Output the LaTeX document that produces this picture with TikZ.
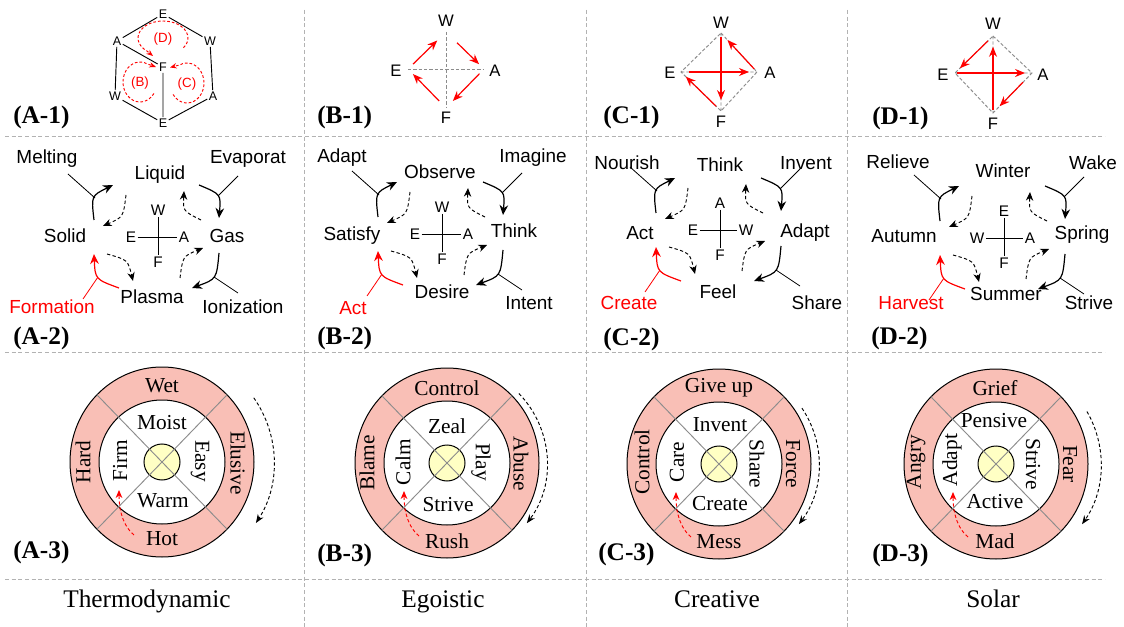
\documentclass[tikz,border=0pt]{standalone}
\usepackage{fontspec}
\setmainfont{Liberation Serif}
\newfontfamily\arial{Liberation Sans}
\usetikzlibrary{arrows.meta,calc}
\definecolor{ringfill}{RGB}{249,191,182}
\definecolor{corefill}{RGB}{255,255,196}
\definecolor{gridgray}{RGB}{178,178,178}
\definecolor{dgray}{RGB}{140,140,140}
\definecolor{myred}{RGB}{255,0,0}
\tikzset{
  gridline/.style={gridgray, dash pattern=on 3pt off 2pt, line width=0.6pt},
  panlbl/.style={font=\fontsize{19}{19}\selectfont\bfseries, anchor=west, inner sep=0pt},
  colname/.style={font=\fontsize{19}{19}\selectfont, inner sep=0pt, anchor=base},
  ringtxt/.style={font=\fontsize{16}{16}\selectfont, inner sep=0pt},
  sanslbl/.style={font=\arial\fontsize{14.2}{14.2}\selectfont, inner sep=1pt},
  redlbl/.style={sanslbl, text=myred},
  crosslbl/.style={font=\arial\fontsize{11.5}{11.5}\selectfont, inner sep=1pt},
  diamlbl/.style={font=\arial\fontsize{12.5}{12.5}\selectfont, inner sep=0pt},
  cubelbl/.style={font=\arial\fontsize{9.4}{9.4}\selectfont, inner sep=1pt},
  looplbl/.style={font=\arial\fontsize{10}{10}\selectfont, text=myred, inner sep=0pt},
  solidarr/.style={-{Stealth[length=7.5pt,width=6.5pt]}, line width=0.9pt},
  dasharr/.style={-{Stealth[length=6.5pt,width=5.5pt]}, line width=0.7pt, dash pattern=on 2.5pt off 1.8pt},
  redarr/.style={solidarr, myred},
  leadline/.style={line width=0.6pt},
  gdash/.style={dgray, dash pattern=on 2.5pt off 1.5pt, line width=0.7pt},
  rarr/.style={myred, line width=0.9pt, -{Stealth[length=7.5pt,width=6pt]}},
  redloop/.style={myred, line width=0.7pt, dash pattern=on 2pt off 1.5pt, -{Stealth[length=5pt,width=4pt]}},
  ringline/.style={dgray, line width=0.7pt},
  bigdash/.style={line width=0.7pt, dash pattern=on 2.5pt off 1.8pt, -{Stealth[length=6.5pt,width=5pt]}},
  reddash/.style={myred, line width=0.7pt, dash pattern=on 2.5pt off 1.8pt, -{Stealth[length=6pt,width=5pt]}},
}
% row-2 cycle: #1 prefix, #2 top, #3 left, #4 right, #5 bottom letters
\newcommand\rowtwo[5]{%
  \node[crosslbl] (#1cT) at (0,27) {#2};
  \node[crosslbl] (#1cL) at (-27,0) {#3};
  \node[crosslbl] (#1cR) at (26,0) {#4};
  \node[crosslbl] (#1cB) at (0,-25) {#5};
  \draw[line width=0.6pt] (#1cL) -- (#1cR) (#1cT) -- (#1cB);
  \coordinate (#1s1) at (-64,17);  \coordinate (#1e1) at (-45,52);
  \coordinate (#1s2) at (-32,42);  \coordinate (#1e2) at (-55,11);
  \coordinate (#1s3) at (41,52);   \coordinate (#1e3) at (61,19);
  \coordinate (#1s4) at (43,17);   \coordinate (#1e4) at (26,46);
  \coordinate (#1s5) at (61,-16);  \coordinate (#1e5) at (34,-51);
  \coordinate (#1s6) at (22,-41);  \coordinate (#1e6) at (45,-11);
  \coordinate (#1s7) at (-51,-17); \coordinate (#1e7) at (-25,-44);
  \coordinate (#1s8) at (-39,-51); \coordinate (#1e8) at (-64,-17);
  \draw[solidarr] (#1s1) .. controls (-66.8,41.2) .. (#1e1);
  \draw[dasharr]  (#1s2) .. controls (-34.7,19.9) .. (#1e2);
  \draw[solidarr] (#1s3) .. controls (63,42.8) .. (#1e3);
  \draw[dasharr]  (#1s4) .. controls (25,25.9) .. (#1e4);
  \draw[solidarr] (#1s5) .. controls (58.6,-42) .. (#1e5);
  \draw[dasharr]  (#1s6) .. controls (24.8,-19.3) .. (#1e6);
  \draw[dasharr]  (#1s7) .. controls (-30.1,-22.9) .. (#1e7);
  \draw[redarr]   (#1s8) .. controls (-62.8,-42.3) .. (#1e8);
  \coordinate (#1l1) at (-90,63);  \coordinate (#1m1) at (-63,39);
  \coordinate (#1l2) at (80,61);   \coordinate (#1m2) at (60,41);
  \coordinate (#1l3) at (80,-56);  \coordinate (#1m3) at (56,-40);
  \coordinate (#1l4) at (-75,-62); \coordinate (#1m4) at (-60,-40);
  \draw[leadline] (#1l1) -- (#1m1) (#1l2) -- (#1m2) (#1l3) -- (#1m3);
  \draw[leadline, myred] (#1l4) -- (#1m4);
}
% row-3 ring: #1 prefix, #2 arrow radius, #3 start angle, #4 end angle
\newcommand\ringbase[4]{%
  \draw[fill=ringfill, line width=0.75pt] (0,0) ellipse [x radius=92, y radius=95];
  \draw[fill=white, line width=0.75pt] (0,0) ellipse [x radius=63, y radius=62];
  \draw[fill=corefill, line width=0.75pt] (0,0) circle [radius=18];
  \draw[ringline] (45:92 and 95) -- (225:92 and 95) (135:92 and 95) -- (-45:92 and 95);
  \coordinate (#1bs) at (#3:#2);
  \draw[bigdash] (#1bs) arc[start angle=#3, end angle=#4, radius=#2];
  \coordinate (#1rs) at (-28,-73); \coordinate (#1re) at (-43,-28);
  \draw[reddash] (#1rs) .. controls (-38,-65) and (-43,-50) .. (#1re);
}
\begin{document}
\begin{tikzpicture}[x=0.75pt,y=0.75pt]
\fill[white] (0,0) rectangle (1124,-627);
\useasboundingbox (0,0) rectangle (1124,-627);
% grid
\draw[gridline] (5,-136) -- (1105,-136);
\draw[gridline] (5,-352) -- (1105,-352);
\draw[gridline] (5,-579) -- (1105,-579);
\foreach \x in {304,586,847} \draw[gridline] (\x,-10) -- (\x,-627);
% panel labels
\node[panlbl] (pA1) at (13,-117) {(A-1)};
\node[panlbl] (pB1) at (317,-117) {(B-1)};
\node[panlbl] (pC1) at (603,-117) {(C-1)};
\node[panlbl] (pD1) at (872,-118) {(D-1)};
\node[panlbl] (pA2) at (13,-338) {(A-2)};
\node[panlbl] (pB2) at (317,-338) {(B-2)};
\node[panlbl] (pC2) at (603,-339) {(C-2)};
\node[panlbl] (pD2) at (871,-338) {(D-2)};
\node[panlbl] (pA3) at (13,-552) {(A-3)};
\node[panlbl] (pB3) at (317,-555) {(B-3)};
\node[panlbl] (pC3) at (598,-554) {(C-3)};
\node[panlbl] (pD3) at (872,-555) {(D-3)};
% column names
\node[colname] (nA) at (147,-607) {Thermodynamic};
\node[colname] (nB) at (443,-607) {Egoistic};
\node[colname] (nC) at (717,-607) {Creative};
\node[colname] (nD) at (993,-607) {Solar};

% ---------- A-1 cube ----------
\node[cubelbl] (cEt) at (163,-14) {E};
\node[cubelbl] (cAl) at (117,-41) {A};
\node[cubelbl] (cWr) at (210,-41) {W};
\node[cubelbl] (cF)  at (163,-67) {F};
\node[cubelbl] (cWl) at (115,-96) {W};
\node[cubelbl] (cAr) at (213,-96) {A};
\node[cubelbl] (cEb) at (163,-123) {E};
\draw[line width=0.7pt] (cEt)--(cAl) (cEt)--(cWr) (cAl)--(cF) (cAl)--(cWl)
  (cWr)--(cAr) (cF)--(cEb) (cWl)--(cEb) (cAr)--(cEb);
\draw[redloop] (163,-38) ++(-35:25 and 17) arc[start angle=-35, end angle=230, x radius=25, y radius=17] -- (153,-56);
\draw[redloop] (140,-82) ++(-35:17 and 20) arc[start angle=-35, end angle=-295, x radius=17, y radius=20] -- (156,-67);
\draw[redloop] (187,-83) ++(-145:17 and 20) arc[start angle=-145, end angle=115, x radius=17, y radius=20] -- (170,-67.5);
\node[looplbl] (lD) at (163,-39) {(D)};
\node[looplbl] (lB) at (140,-83) {(B)};
\node[looplbl] (lC) at (187,-84) {(C)};

% ---------- B-1 ----------
\coordinate (b1T) at (446,-32); \coordinate (b1L) at (408,-69);
\coordinate (b1R) at (484,-69); \coordinate (b1B) at (446,-108);
\node[diamlbl] (b1W) at (446,-21) {W};
\node[diamlbl] (b1E) at (396,-71) {E};
\node[diamlbl] (b1A) at (495,-71) {A};
\node[diamlbl] (b1F) at (446,-118) {F};
\draw[gdash] (b1L)--(b1R) (b1T)--(b1B);
\draw[rarr] ($(b1L)!0.13!(b1T)$) -- ($(b1L)!0.77!(b1T)$);
\draw[rarr] ($(b1T)!0.29!(b1R)$) -- ($(b1T)!0.87!(b1R)$);
\draw[rarr] ($(b1R)!0.12!(b1B)$) -- ($(b1R)!0.82!(b1B)$);
\draw[rarr] ($(b1B)!0.18!(b1L)$) -- ($(b1B)!0.87!(b1L)$);

% ---------- C-1 ----------
\coordinate (c1T) at (721,-33); \coordinate (c1L) at (681,-72);
\coordinate (c1R) at (757,-72); \coordinate (c1B) at (721,-111);
\node[diamlbl] (c1W) at (721,-23) {W};
\node[diamlbl] (c1E) at (670,-73) {E};
\node[diamlbl] (c1A) at (770,-73) {A};
\node[diamlbl] (c1F) at (721,-122) {F};
\draw[gdash] (c1T)--(c1R)--(c1B)--(c1L)--cycle (c1L)--(c1R) (c1T)--(c1B);
\draw[rarr] ($(c1R)!0.08!(c1T)$) -- ($(c1R)!0.82!(c1T)$);
\draw[rarr] ($(c1T)!0.05!(c1B)$) -- ($(c1T)!0.86!(c1B)$);
\draw[rarr] ($(c1L)!0.10!(c1R)$) -- ($(c1L)!0.895!(c1R)$);
\draw[rarr] ($(c1B)!0.12!(c1L)$) -- ($(c1B)!0.88!(c1L)$);

% ---------- D-1 ----------
\coordinate (d1T) at (993,-36); \coordinate (d1L) at (955,-73);
\coordinate (d1R) at (1032,-73); \coordinate (d1B) at (993,-113);
\node[diamlbl] (d1W) at (993,-24) {W};
\node[diamlbl] (d1E) at (943,-75) {E};
\node[diamlbl] (d1A) at (1043,-75) {A};
\node[diamlbl] (d1F) at (993,-124) {F};
\draw[gdash] (d1T)--(d1R)--(d1B)--(d1L)--cycle (d1L)--(d1R) (d1T)--(d1B);
\draw[rarr] ($(d1T)!0.13!(d1L)$) -- ($(d1T)!0.87!(d1L)$);
\draw[rarr] ($(d1B)!0.04!(d1T)$) -- ($(d1B)!0.86!(d1T)$);
\draw[rarr] ($(d1L)!0.03!(d1R)$) -- ($(d1L)!0.91!(d1R)$);
\draw[rarr] ($(d1R)!0.23!(d1B)$) -- ($(d1R)!0.83!(d1B)$);

% ---------- row 2 ----------
\node[sanslbl] (a2tl) at (47,-159) {Melting};
\node[sanslbl] (a2t)  at (160,-175) {Liquid};
\node[sanslbl] (a2tr) at (248,-159) {Evaporat};
\node[sanslbl] (a2l)  at (65,-236) {Solid};
\node[sanslbl] (a2r)  at (227,-236) {Gas};
\node[sanslbl] (a2b)  at (152,-297) {Plasma};
\node[redlbl]  (a2bl) at (52,-307) {Formation};
\node[sanslbl] (a2br) at (243,-307) {Ionization};
\begin{scope}[shift={(158,-237)}] \rowtwo{a2}{W}{E}{A}{F} \end{scope}

\node[sanslbl] (b2tl) at (342,-158) {Adapt};
\node[sanslbl] (b2t)  at (440,-172) {Observe};
\node[sanslbl] (b2tr) at (533,-158) {Imagine};
\node[sanslbl] (b2l)  at (352,-236) {Satisfy};
\node[sanslbl] (b2r)  at (514,-231) {Think};
\node[sanslbl] (b2b)  at (442,-292) {Desire};
\node[redlbl]  (b2bl) at (353,-308) {Act};
\node[sanslbl] (b2br) at (529,-303) {Intent};
\begin{scope}[shift={(442,-234)}] \rowtwo{b2}{W}{E}{A}{F} \end{scope}

\node[sanslbl] (c2tl) at (627,-163) {Nourish};
\node[sanslbl] (c2t)  at (720,-165) {Think};
\node[sanslbl] (c2tr) at (806,-163) {Invent};
\node[sanslbl] (c2l)  at (640,-233) {Act};
\node[sanslbl] (c2r)  at (805,-233) {Adapt};
\node[sanslbl] (c2b)  at (718,-292) {Feel};
\node[redlbl]  (c2bl) at (629,-303) {Create};
\node[sanslbl] (c2br) at (817,-303) {Share};
\begin{scope}[shift={(720,-230)}] \rowtwo{c2}{A}{E}{W}{F} \end{scope}

\node[sanslbl] (d2tl) at (898,-162) {Relieve};
\node[sanslbl] (d2t)  at (1003,-171) {Winter};
\node[sanslbl] (d2tr) at (1093,-163) {Wake};
\node[sanslbl] (d2l)  at (904,-236) {Autumn};
\node[sanslbl] (d2r)  at (1082,-235) {Spring};
\node[sanslbl] (d2b)  at (1006,-294) {Summer};
\node[redlbl]  (d2bl) at (911,-303) {Harvest};
\node[sanslbl] (d2br) at (1089,-303) {Strive};
\begin{scope}[shift={(1004,-238)}] \rowtwo{d2}{E}{W}{A}{F} \end{scope}

% ---------- row 3 ----------
\begin{scope}[shift={(162,-462)}]
  \ringbase{a3}{112}{35}{-33}
  \node[ringtxt] (a3t) at (0,76) {Wet};
  \node[ringtxt] (a3b) at (0,-77) {Hot};
  \node[ringtxt, rotate=90] (a3l) at (-79,0) {Hard};
  \node[ringtxt, rotate=-90] (a3r) at (76,-1) {Elusive};
  \node[ringtxt] (a3it) at (0,39) {Moist};
  \node[ringtxt] (a3ib) at (1,-39) {Warm};
  \node[ringtxt, rotate=90] (a3il) at (-42,1) {Firm};
  \node[ringtxt, rotate=-90] (a3ir) at (38,1) {Easy};
\end{scope}
\begin{scope}[shift={(447,-463)}]
  \ringbase{b3}{100}{44}{-37}
  \node[ringtxt] (b3t) at (0,75) {Control};
  \node[ringtxt] (b3b) at (0,-78) {Rush};
  \node[ringtxt, rotate=90] (b3l) at (-80,0) {Blame};
  \node[ringtxt, rotate=-90] (b3r) at (74,-1) {Abuse};
  \node[ringtxt] (b3it) at (0,37) {Zeal};
  \node[ringtxt] (b3ib) at (1,-42) {Strive};
  \node[ringtxt, rotate=90] (b3il) at (-44,1) {Calm};
  \node[ringtxt, rotate=-90] (b3ir) at (34,1) {Play};
\end{scope}
\begin{scope}[shift={(719,-464)}]
  \ringbase{c3}{100}{34}{-37}
  \node[ringtxt] (c3t) at (0,76) {Give up};
  \node[ringtxt] (c3b) at (0,-78) {Mess};
  \node[ringtxt, rotate=90] (c3l) at (-77,2) {Control};
  \node[ringtxt, rotate=-90] (c3r) at (74,0) {Force};
  \node[ringtxt] (c3it) at (1,39) {Invent};
  \node[ringtxt] (c3ib) at (1,-40) {Create};
  \node[ringtxt, rotate=90] (c3il) at (-42,2) {Care};
  \node[ringtxt, rotate=-90] (c3ir) at (38,0) {Share};
\end{scope}
\begin{scope}[shift={(996,-464)}]
  \ringbase{d3}{105}{30}{-35}
  \node[ringtxt] (d3t) at (-1,76) {Grief};
  \node[ringtxt] (d3b) at (-1,-77) {Mad};
  \node[ringtxt, rotate=90] (d3l) at (-80,2) {Angry};
  \node[ringtxt, rotate=-90] (d3r) at (74,0) {Fear};
  \node[ringtxt] (d3it) at (-2,43) {Pensive};
  \node[ringtxt] (d3ib) at (-1,-38) {Active};
  \node[ringtxt, rotate=90] (d3il) at (-44,4) {Adapt};
  \node[ringtxt, rotate=-90] (d3ir) at (37,0) {Strive};
\end{scope}
\end{tikzpicture}
\end{document}
